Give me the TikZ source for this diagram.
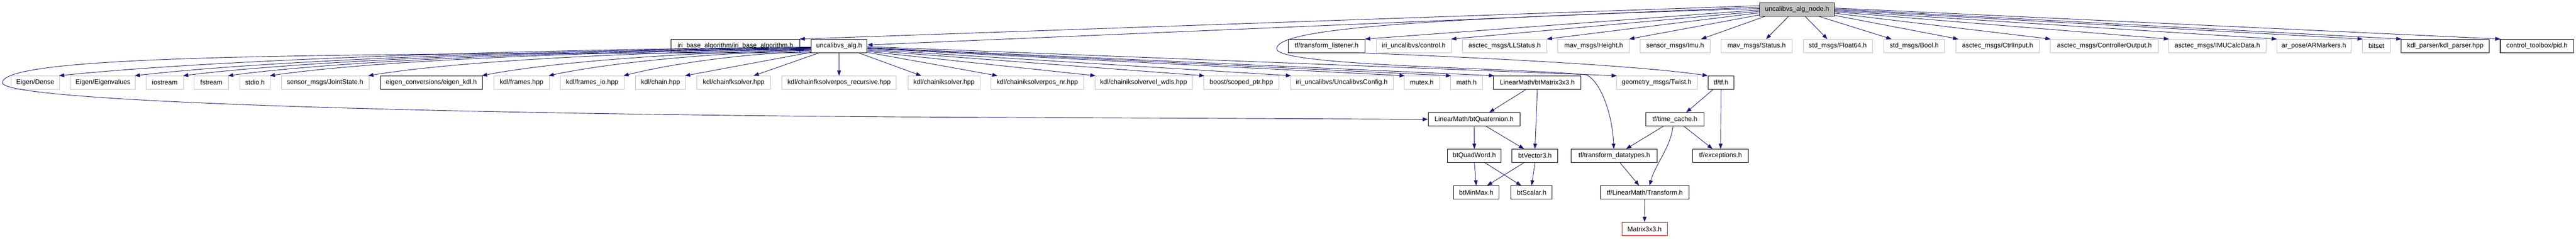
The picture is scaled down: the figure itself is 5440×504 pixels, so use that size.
\documentclass[tikz,border=0pt]{standalone}
\usepackage{fontspec}
\setmainfont{Liberation Sans}
\usetikzlibrary{arrows.meta,calc}
\definecolor{edgeblue}{HTML}{191970}
\definecolor{grayline}{HTML}{BFBFBF}
\definecolor{rootfill}{HTML}{BFBFBF}
\begin{document}
\begin{tikzpicture}[x=1pt,y=-1pt,
  box/.style={draw, line width=1.1pt, minimum height=28pt, inner sep=0pt, anchor=center,
              font=\fontsize{14}{16}\selectfont},
  gbox/.style={box, draw=grayline, line width=1pt},
  bbox/.style={box, draw=black},
  rbox/.style={box, draw=red},
  edge/.style={draw=edgeblue, line width=1pt, -{Triangle[length=11pt,width=8pt]}}]
\useasboundingbox[fill=white] (0,0) rectangle (5440,504);

% row 1
\node[bbox, fill=rootfill, minimum width=158pt] (root) at (3795,20) {uncalibvs\_alg\_node.h};

% row 2
\node[bbox, minimum width=272pt] (ibase) at (1553,97) {iri\_base\_algorithm/iri\_base\_algorithm.h};
\node[bbox, minimum width=118pt] (alg) at (1772,97) {uncalibvs\_alg.h};
\node[bbox, minimum width=163pt] (tflist) at (2801.5,97) {tf/transform\_listener.h};
\node[gbox, minimum width=159pt] (control) at (2985.5,97) {iri\_uncalibvs/control.h};
\node[gbox, minimum width=179pt] (llstatus) at (3177.5,97) {asctec\_msgs/LLStatus.h};
\node[gbox, minimum width=151pt] (height) at (3365.5,97) {mav\_msgs/Height.h};
\node[gbox, minimum width=147pt] (imu) at (3537.5,97) {sensor\_msgs/Imu.h};
\node[gbox, minimum width=151pt] (mstatus) at (3709.5,97) {mav\_msgs/Status.h};
\node[gbox, minimum width=146pt] (float64) at (3881,97) {std\_msgs/Float64.h};
\node[gbox, minimum width=129pt] (bool) at (4042.5,97) {std\_msgs/Bool.h};
\node[gbox, minimum width=177pt] (ctrlin) at (4218.5,97) {asctec\_msgs/CtrlInput.h};
\node[gbox, minimum width=228pt] (ctrlout) at (4444,97) {asctec\_msgs/ControllerOutput.h};
\node[gbox, minimum width=205pt] (imucalc) at (4682.5,97) {asctec\_msgs/IMUCalcData.h};
\node[gbox, minimum width=157pt] (armark) at (4886.5,97) {ar\_pose/ARMarkers.h};
\node[gbox, minimum width=59pt] (bitset) at (5018.5,97) {bitset};
\node[bbox, minimum width=186pt] (kdlparser) at (5164,97) {kdl\_parser/kdl\_parser.hpp};
\node[bbox, minimum width=155pt] (pid) at (5357.5,97) {control\_toolbox/pid.h};

% row 3
\node[gbox, minimum width=103pt] (dense) at (74.5,174.5) {Eigen/Dense};
\node[gbox, minimum width=137pt] (eigval) at (217.5,174.5) {Eigen/Eigenvalues};
\node[gbox, minimum width=80pt] (iostream) at (348,174.5) {iostream};
\node[gbox, minimum width=73pt] (fstream) at (446.5,174.5) {fstream};
\node[gbox, minimum width=65pt] (stdio) at (538.5,174.5) {stdio.h};
\node[gbox, minimum width=185pt] (joint) at (686.5,174.5) {sensor\_msgs/JointState.h};
\node[bbox, minimum width=216pt] (eigkdl) at (911,174.5) {eigen\_conversions/eigen\_kdl.h};
\node[gbox, minimum width=117pt] (frames) at (1101.5,174.5) {kdl/frames.hpp};
\node[gbox, minimum width=135pt] (framesio) at (1250.5,174.5) {kdl/frames\_io.hpp};
\node[gbox, minimum width=106pt] (chain) at (1395,174.5) {kdl/chain.hpp};
\node[gbox, minimum width=155pt] (fk) at (1549.5,174.5) {kdl/chainfksolver.hpp};
\node[gbox, minimum width=242pt] (fkrec) at (1772,174.5) {kdl/chainfksolverpos\_recursive.hpp};
\node[gbox, minimum width=153pt] (ik) at (1993.5,174.5) {kdl/chainiksolver.hpp};
\node[gbox, minimum width=195pt] (iknr) at (2190.5,174.5) {kdl/chainiksolverpos\_nr.hpp};
\node[gbox, minimum width=206pt] (wdls) at (2415,174.5) {kdl/chainiksolvervel\_wdls.hpp};
\node[gbox, minimum width=159pt] (scoped) at (2621.5,174.5) {boost/scoped\_ptr.hpp};
\node[gbox, minimum width=217pt] (config) at (2833.5,174.5) {iri\_uncalibvs/UncalibvsConfig.h};
\node[gbox, minimum width=75pt] (mutex) at (3002.5,174.5) {mutex.h};
\node[gbox, minimum width=68pt] (math) at (3097,174.5) {math.h};
\node[bbox, minimum width=185pt] (btmat) at (3246.5,174.5) {LinearMath/btMatrix3x3.h};
\node[gbox, minimum width=171pt] (twist) at (3498.5,174.5) {geometry\_msgs/Twist.h};
\node[bbox, minimum width=55pt] (tfh) at (3634.5,174.5) {tf/tf.h};

% lower rows
\node[bbox, minimum width=194pt] (btquat) at (3113,252) {LinearMath/btQuaternion.h};
\node[bbox, minimum width=122pt] (timecache) at (3537,252) {tf/time\_cache.h};
\node[bbox, minimum width=113pt] (quadword) at (3113.5,329) {btQuadWord.h};
\node[bbox, minimum width=97pt] (vector3) at (3241.5,329) {btVector3.h};
\node[bbox, minimum width=182pt] (transdt) at (3409,329) {tf/transform\_datatypes.h};
\node[bbox, minimum width=117pt] (exceptions) at (3633.5,329) {tf/exceptions.h};
\node[bbox, minimum width=95pt] (minmax) at (3117.5,406.5) {btMinMax.h};
\node[bbox, minimum width=87pt] (scalar) at (3234.5,406.5) {btScalar.h};
\node[bbox, minimum width=187pt] (transform) at (3473.5,406.5) {tf/LinearMath/Transform.h};
\node[rbox, minimum width=96pt] (m3x3) at (3473,483.5) {Matrix3x3.h};

% root edges, left side
\draw[edge] ($(root.west)+(0,-8)$) -- ($(ibase.north east)+(-1,0)$);
\draw[edge] ($(root.west)+(0,-5)$) -- ($(alg.east)+(0,-2)$);
\draw[edge] ($(root.west)+(0,-2)$) .. controls (3000,40) and (2696,60) .. (2696,103)
   .. controls (2696,140) and (3200,143) .. (3350,158)
   .. controls (3380,172) and (3405,240) .. ($(transdt.north)+(-1,0)$);
\draw[edge] ($(root.west)+(0,1)$) -- ($(tflist.north east)+(-1,0)$);
\draw[edge] ($(root.west)+(0,4)$) -- ($(control.north east)+(-1,0)$);
\draw[edge] ($(root.west)+(0,7)$) -- ($(llstatus.north east)+(-1,0)$);
\draw[edge] ($(root.south west)+(0,-3)$) -- ($(height.north east)+(-1,0)$);
\draw[edge] ($(root.south west)+(12,0)$) -- ($(imu.north east)+(-19,0)$);
% root edges, below
\draw[edge] ($(root.south)+(-18,0)$) -- ($(mstatus.north)+(20,0)$);
\draw[edge] ($(root.south)+(17,0)$) -- ($(float64.north)+(-22,0)$);
\draw[edge] ($(root.south)+(46,0)$) -- ($(bool.north west)+(17,0)$);
% root edges, right side
\draw[edge] ($(root.south east)+(0,-2)$) -- ($(ctrlin.north west)+(6,0)$);
\draw[edge] ($(root.east)+(0,8)$) -- ($(ctrlout.north west)+(1,0)$);
\draw[edge] ($(root.east)+(0,5)$) -- ($(imucalc.north west)+(1,0)$);
\draw[edge] ($(root.east)+(0,3)$) -- ($(armark.north west)+(1,0)$);
\draw[edge] ($(root.east)+(0,1)$) -- ($(bitset.north west)+(1,0)$);
\draw[edge] ($(root.east)+(0,-1)$) -- ($(kdlparser.north west)+(1,0)$);
\draw[edge] ($(root.east)+(0,-3)$) -- ($(pid.north west)+(1,0)$);

% uncalibvs_alg.h edges, left side
\draw[edge] ($(alg.south west)+(0,-12)$) .. controls +(-715,6) and +(286,-30) .. ($(dense.north east)+(-2,0)$);
\draw[edge] ($(alg.south west)+(0,-11)$) .. controls +(-643,6) and +(257,-30) .. ($(eigval.north east)+(-2,0)$);
\draw[edge] ($(alg.south west)+(0,-10)$) .. controls +(-597,6) and +(239,-30) .. ($(iostream.north east)+(-2,0)$);
\draw[edge] ($(alg.south west)+(0,-9)$) .. controls +(-554,6) and +(222,-30) .. ($(fstream.north east)+(-2,0)$);
\draw[edge] ($(alg.south west)+(0,-8)$) .. controls +(-515,6) and +(206,-30) .. ($(stdio.north east)+(-2,0)$);
\draw[edge] ($(alg.south west)+(0,-7)$) .. controls +(-421,6) and +(168,-28) .. ($(joint.north east)+(-2,0)$);
\draw[edge] ($(alg.south west)+(0,-6)$) .. controls +(-313,6) and +(125,-25) .. ($(eigkdl.north east)+(-2,0)$);
\draw[edge] ($(alg.south west)+(0,-5)$) .. controls +(-250,6) and +(100,-22) .. ($(frames.north east)+(-2,0)$);
\draw[edge] ($(alg.south west)+(0,-3)$) .. controls +(-179,6) and +(71,-18) .. ($(framesio.north east)+(-2,0)$);
\draw[edge] ($(alg.south west)+(0,-1)$) -- ($(chain.north east)+(-2,0)$);
% uncalibvs_alg.h edges, below
\draw[edge] ($(alg.south)+(-42,0)$) -- ($(fk.north)+(42,0)$);
\draw[edge] (alg.south) -- (fkrec.north);
\draw[edge] ($(alg.south)+(41,0)$) -- ($(ik.north)+(-48,0)$);
% uncalibvs_alg.h edges, right side
\draw[edge] ($(alg.south east)+(0,-1)$) -- ($(iknr.north west)+(14,0)$);
\draw[edge] ($(alg.south east)+(0,-3)$) -- ($(wdls.north west)+(2,0)$);
\draw[edge] ($(alg.south east)+(0,-5)$) -- ($(scoped.north west)+(2,0)$);
\draw[edge] ($(alg.south east)+(0,-7)$) -- ($(config.north west)+(2,0)$);
\draw[edge] ($(alg.south east)+(0,-9)$) -- ($(mutex.north west)+(2,0)$);
\draw[edge] ($(alg.south east)+(0,-10)$) -- ($(math.north west)+(2,0)$);
\draw[edge] ($(alg.south east)+(0,-11)$) -- ($(btmat.north west)+(2,0)$);
\draw[edge] ($(alg.south east)+(0,-13)$) -- ($(twist.north west)+(2,0)$);
% loop to btQuaternion
\draw[edge] ($(alg.south west)+(0,0)$) .. controls (600,113) and (5,118) .. (5,175)
   .. controls (10,215) and (900,240) .. (1900,247) -- (btquat.west);

% transform_listener
\draw[edge] ($(tflist.south east)+(-12,0)$) .. controls +(250,10) and +(-150,-22) .. (tfh.north west);

% bullet
\draw[edge] ($(btmat.south)+(-24,0)$) -- ($(btquat.north)+(32,0)$);
\draw[edge] (btmat.south) -- (vector3.north);
\draw[edge] (btquat.south) -- (quadword.north);
\draw[edge] ($(btquat.south)+(25,0)$) -- ($(vector3.north)+(-23,0)$);
\draw[edge] (quadword.south) -- (minmax.north);
\draw[edge] ($(quadword.south)+(22,0)$) -- ($(scalar.north)+(-22,0)$);
\draw[edge] ($(vector3.south)+(-23,0)$) -- ($(minmax.north)+(23,0)$);
\draw[edge] (vector3.south) -- (scalar.north);

% tf
\draw[edge] ($(tfh.south)+(-17,0)$) -- ($(timecache.north)+(24,0)$);
\draw[edge] (tfh.south) -- (exceptions.north);
\draw[edge] ($(timecache.south)+(-24,0)$) -- ($(transdt.north)+(25,0)$);
\draw[edge] ($(timecache.south)+(-4,0)$) .. controls +(-5,45) and +(12,-45) .. ($(transform.north)+(10,0)$);
\draw[edge] ($(timecache.south)+(19,0)$) -- ($(exceptions.north)+(-17,0)$);
\draw[edge] ($(transdt.south)+(12,0)$) -- ($(transform.north)+(-12,0)$);
\draw[edge] (transform.south) -- (m3x3.north);
\end{tikzpicture}
\end{document}
